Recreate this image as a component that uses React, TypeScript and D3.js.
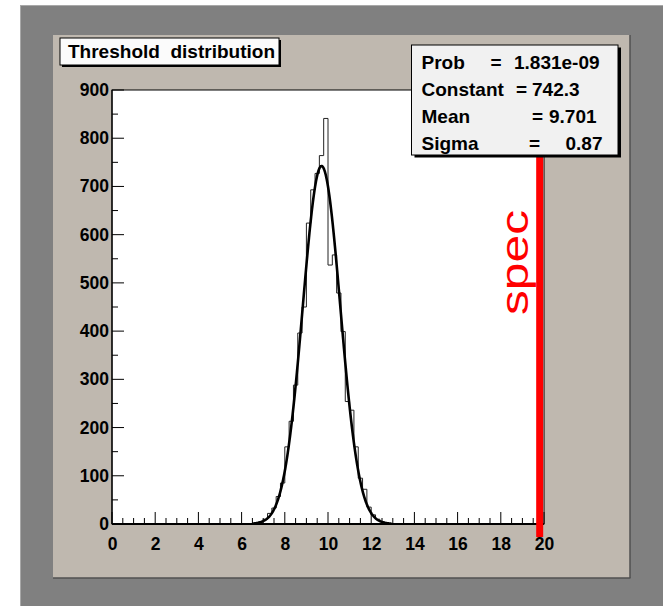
import React from 'react';
import * as d3 from 'd3';

// ---- data ----
const binWidth = 0.2;
const binStarts = [6.2, 6.4, 6.6, 6.8, 7.0, 7.2, 7.4, 7.6, 7.8, 8.0, 8.2, 8.4, 8.6, 8.8, 9.0, 9.2, 9.4, 9.6, 9.8,
  10.0, 10.2, 10.4, 10.6, 10.8, 11.0, 11.2, 11.4, 11.6, 11.8, 12.0, 12.2, 12.4, 12.6, 12.8, 13.0];
const counts = [0, 1, 2, 5, 10, 22, 33, 57, 85, 160, 213, 288, 396, 450, 624, 693, 727, 764, 841,
  537, 558, 479, 399, 254, 236, 160, 95, 72, 35, 19, 10, 5, 2, 1, 0];
const fitConstant = 742.3;
const fitMean = 9.701;
const fitSigma = 0.87;
const fitRange = [6.5, 12.95];
const xTicks = [0, 2, 4, 6, 8, 10, 12, 14, 16, 18, 20];
const yTicks = [0, 100, 200, 300, 400, 500, 600, 700, 800, 900];
const statLabels = ['Prob', 'Constant', 'Mean', 'Sigma'];
const statValues = ['1.831e-09', '742.3', '9.701', '0.87'];
const titleText = 'Threshold  distribution';
const specValue = 19.8;
const specLabel = 'spec';

// ---- layout ----
const W = 663, H = 606;
const PL = 112, PR = 544, PT = 90, PB = 524;
const statEqX = [491.5, 517, 533, 530];
const statValX = [515, 533, 550, 566.5];
const statBaseY = [68.5, 95.5, 123, 150];
const sans = '"Liberation Sans", Arial, Helvetica, sans-serif';

export default function App() {
  const x = d3.scaleLinear().domain([0, 20]).range([PL, PR]);
  const y = d3.scaleLinear().domain([0, 900]).range([PB, PT]);

  const pts: [number, number][] = [];
  pts.push([x(binStarts[0]), y(0)]);
  binStarts.forEach((s, i) => {
    pts.push([x(s), y(counts[i])]);
    pts.push([x(s + binWidth), y(counts[i])]);
  });
  pts.push([x(binStarts[binStarts.length - 1] + binWidth), y(0)]);
  const histPath = d3.line()(pts) || '';

  const fitPts = d3.range(fitRange[0], fitRange[1] + 1e-9, 0.02).map(v => [
    x(v), y(fitConstant * Math.exp(-0.5 * ((v - fitMean) / fitSigma) ** 2)),
  ] as [number, number]);
  const fitPath = d3.line()(fitPts) || '';

  const xMinor = d3.range(0, 20.001, 0.5);
  const yMinor = d3.range(0, 900.001, 50);

  return (
    <svg width={W} height={H} style={{ position: 'absolute', left: 0, top: 0 }}>
      <rect x={0} y={0} width={W} height={H} fill="#ffffff" />
      {/* outer canvas */}
      <rect x={20} y={5} width={W - 20} height={H - 5} fill="#808080" />
      <line x1={20.5} y1={5} x2={20.5} y2={H} stroke="#a8a8a8" strokeWidth={1} />
      <line x1={20} y1={5.5} x2={W} y2={5.5} stroke="#a8a8a8" strokeWidth={1} />
      {/* pad */}
      <rect x={53} y={35} width={577} height={543} fill="#bfb8af" />
      <line x1={630} y1={35} x2={630} y2={578} stroke="#505050" strokeWidth={1.5} />
      <line x1={53} y1={578} x2={630.5} y2={578} stroke="#505050" strokeWidth={1.5} />
      {/* frame */}
      <rect x={PL} y={PT} width={PR - PL} height={PB - PT} fill="#ffffff" stroke="#000" strokeWidth={1} />

      {/* histogram */}
      <path d={histPath} fill="none" stroke="#222" strokeWidth={1} />
      {/* fit */}
      <path d={fitPath} fill="none" stroke="#000" strokeWidth={2.6} strokeLinejoin="round" />

      {/* axes */}
      <line x1={PL} y1={PB} x2={PR} y2={PB} stroke="#000" strokeWidth={2} />
      <line x1={PL} y1={PT} x2={PL} y2={PB} stroke="#000" strokeWidth={1.2} />
      {xMinor.map((v, i) => {
        const major = Math.abs(v / 2 - Math.round(v / 2)) < 1e-6;
        return <line key={'xm' + i} x1={x(v)} x2={x(v)} y1={PB} y2={PB - (major ? 12 : 6)} stroke="#000" strokeWidth={1} />;
      })}
      {yMinor.map((v, i) => {
        const major = Math.abs(v / 100 - Math.round(v / 100)) < 1e-6;
        return <line key={'ym' + i} x1={PL} x2={PL + (major ? 12 : 6)} y1={y(v)} y2={y(v)} stroke="#000" strokeWidth={1} />;
      })}
      {xTicks.map(v => (
        <text key={'xt' + v} x={x(v) + 0.5} y={549.5} textAnchor="middle" fontFamily={sans} fontWeight="bold" fontSize={17.5} fill="#000">{v}</text>
      ))}
      {yTicks.map(v => (
        <text key={'yt' + v} x={109} y={y(v) + 6} textAnchor="end" fontFamily={sans} fontWeight="bold" fontSize={17.5} fill="#000">{v}</text>
      ))}

      {/* spec line */}
      <line x1={x(specValue)} x2={x(specValue)} y1={y(-27)} y2={y(900)} stroke="#ff0000" strokeWidth={7} />
      <text transform={`translate(${x(specValue) - 12},315) rotate(-90)`} fontFamily={sans}
        fontSize={38} fill="#ff0000" textLength={105} lengthAdjust="spacingAndGlyphs">{specLabel}</text>

      {/* title box */}
      <rect x={62} y={40} width={219} height={27} fill="#000" />
      <rect x={60} y={38} width={219} height={27} fill="#fbfbfb" stroke="#000" strokeWidth={1} />
      <text x={68} y={58} fontFamily={sans} fontWeight="bold" fontSize={18.5} fill="#000" textLength={207} lengthAdjust="spacingAndGlyphs" style={{ whiteSpace: 'pre' }}>{titleText}</text>

      {/* stats box */}
      <rect x={414.5} y={47.5} width={206.5} height={110} fill="#000" />
      <rect x={411.5} y={45} width={206.5} height={110} fill="#f1f1f1" stroke="#000" strokeWidth={1} />
      {statLabels.map((lab, i) => (
        <g key={'st' + i} fontFamily={sans} fontWeight="bold" fontSize={19} fill="#000">
          <text x={421.5} y={statBaseY[i]}>{lab}</text>
          <text x={statEqX[i] - 1} y={statBaseY[i]}>=</text>
          <text x={statValX[i] - 1} y={statBaseY[i]}>{statValues[i]}</text>
        </g>
      ))}
    </svg>
  );
}
